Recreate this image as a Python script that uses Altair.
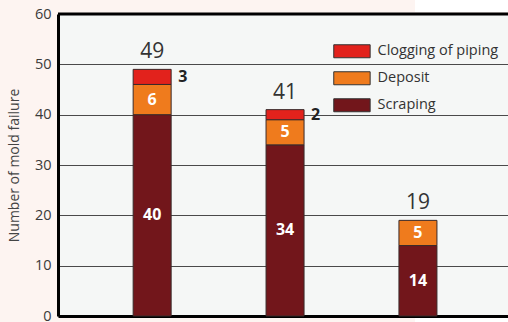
import altair as alt
import pandas as pd

categories = ["Mold A", "Mold B", "Mold C"]
scraping = [40, 34, 14]
deposit = [6, 5, 5]
clogging = [3, 2, 0]
series_names = ["Clogging of piping", "Deposit", "Scraping"]
colors = ["#e2221c", "#ef7b1d", "#72161b"]

rows = []
for i, c in enumerate(categories):
    base = 0
    for order, (name, vals) in enumerate([("Scraping", scraping), ("Deposit", deposit), ("Clogging of piping", clogging)]):
        v = vals[i]
        if v > 0:
            rows.append({"cat": c, "series": name, "value": v, "y0": base, "y1": base + v,
                         "mid": base + v / 2, "order": order})
        base += v
df = pd.DataFrame(rows)
totals = pd.DataFrame({"cat": categories, "total": [a + b + c for a, b, c in zip(scraping, deposit, clogging)]})

FONT = "Open Sans"
xscale = alt.Scale(domain=categories, paddingInner=0.714, paddingOuter=0.55, align=0.514)
yscale = alt.Scale(domain=[0, 60], nice=False)

xenc = alt.X("cat:N", scale=xscale, axis=alt.Axis(title=None, labels=False, ticks=False,
                                                   domainColor="black", domainWidth=3))

bars = alt.Chart(df).mark_bar(stroke="#3a2a2a", strokeWidth=1).encode(
    x=xenc,
    y=alt.Y("y1:Q", scale=yscale, axis=alt.Axis(
        title="Number of mold failure", values=[0, 10, 20, 30, 40, 50, 60],
        grid=True, gridColor="#4a4a4a", gridWidth=1, ticks=False,
        domainColor="black", domainWidth=3, labelFontSize=14.5, labelColor="#3a3a3a",
        labelPadding=7, labelFont=FONT, titleFont=FONT, titleFontSize=14,
        titleFontWeight="normal", titleColor="#444444", titleX=-44, titleY=151,
        titleAngle=-90, titleAlign="center", titleBaseline="middle")),
    y2="y0:Q",
    color=alt.Color("series:N", scale=alt.Scale(domain=series_names, range=colors),
                    legend=alt.Legend(title=None, orient="none", legendX=275, legendY=30,
                                      symbolType="M-1,-1L4.6,-1L4.6,1L-1,1Z", symbolSize=169,
                                      symbolStrokeColor="#333333", symbolStrokeWidth=1,
                                      symbolOpacity=1, labelOffset=30, labelFontSize=14.5,
                                      labelFont=FONT, labelColor="#333333", rowPadding=9,
                                      padding=0)),
    order=alt.Order("order:Q"),
)

inner = alt.Chart(df[df["series"] != "Clogging of piping"]).mark_text(
    color="white", fontWeight="bold", fontSize=16, font=FONT, baseline="middle"
).encode(x=xenc, y=alt.Y("mid:Q", scale=yscale), text="value:Q")

clog = alt.Chart(df[df["series"] == "Clogging of piping"]).mark_text(
    color="#222222", fontWeight="bold", fontSize=16, font=FONT, baseline="middle",
    align="left", dx=26
).encode(x=xenc, y=alt.Y("mid:Q", scale=yscale), text="value:Q")

tot = alt.Chart(totals).mark_text(
    color="#333333", fontSize=21, font=FONT, baseline="bottom", dy=-7
).encode(x=xenc, y=alt.Y("total:Q", scale=yscale), text="total:Q")

frame = pd.DataFrame({"top": [60]})
top_rule = alt.Chart(frame).mark_rule(color="black", strokeWidth=3).encode(
    y=alt.Y("top:Q", scale=yscale))

white_top = alt.Chart(frame).mark_rect(color="white", clip=False).encode(
    x=alt.value(357), x2=alt.value(460), y=alt.value(-20), y2=alt.value(-2))
white_bot = alt.Chart(frame).mark_rect(color="white", clip=False).encode(
    x=alt.value(357), x2=alt.value(460), y=alt.value(304), y2=alt.value(320))

chart = alt.layer(white_top, white_bot, bars, inner, clog, tot, top_rule).properties(
    width=450, height=302,
    autosize=alt.AutoSizeParams(type="none"),
    padding={"left": 58, "top": 14, "right": 0, "bottom": 6},
    background="#fdf4f1",
).configure_view(fill="#f5f7f6", stroke=None)

chart.save("out.html", embed_options={"renderer": "svg", "actions": False})
